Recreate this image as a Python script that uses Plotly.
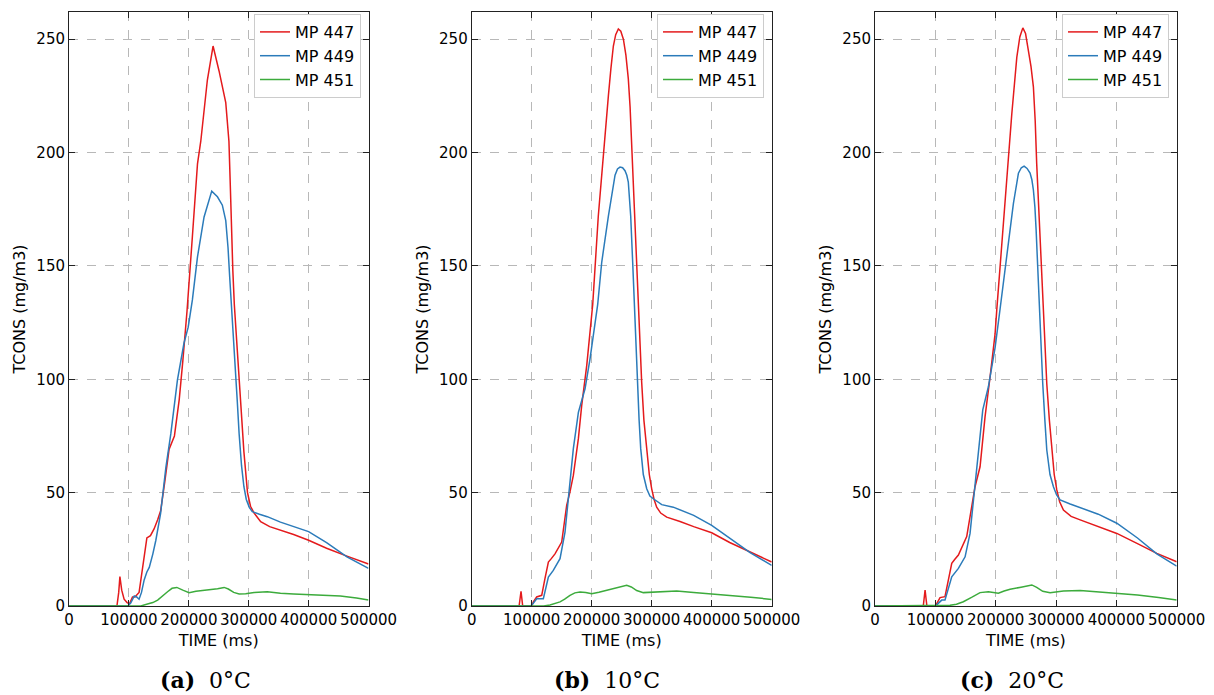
import plotly.graph_objects as go

# ---------------- data ----------------
series_names = ["MP 447", "MP 449", "MP 451"]
series_colors = ["#e41a1c", "#2b7bba", "#3cab3c"]
captions = ["(a)", "(b)", "(c)"]
temps = ["0°C", "10°C", "20°C"]
x_ticks = [0, 100000, 200000, 300000, 400000, 500000]
y_ticks = [0, 50, 100, 150, 200, 250]

# Panel (a) 0°C
a_t447 = [0, 80000, 83000, 85000, 88000, 92000, 97000, 101000, 106000, 110000, 117000, 124000, 130000,
          136000, 142000, 148000, 153000, 160000, 167000, 176000, 184000, 190000, 197000, 206000, 214500,
          220000, 231000, 240500, 250500, 261700, 265000, 267000, 269000, 271000, 273500, 276000, 281000,
          286700, 292000, 298000, 303000, 309000, 320000, 335000, 353000, 375000, 400000, 430000, 464000,
          500000]
a_v447 = [0, 0, 6, 13, 7, 3, 1.5, 1, 4, 4, 6, 18, 30, 31, 34, 38, 42, 55, 69, 75, 91, 108, 130, 163, 195,
          205, 232, 247, 236, 222, 212, 205, 188, 166, 148, 133, 112, 91, 68, 50, 44, 41, 37.2, 35, 33.5,
          31.5, 29, 25.5, 22, 18.5]
a_t449 = [0, 98000, 103000, 109000, 113000, 117000, 121000, 125500, 130000, 134000, 140000, 145000,
          153000, 161700, 170000, 181000, 192000, 199000, 206000, 214500, 225500, 238300, 247800, 256000,
          261700, 265500, 268300, 271500, 275000, 278000, 281000, 284000, 288000, 292000, 296000, 301000,
          306000, 318000, 331000, 353000, 375000, 400000, 430000, 464000, 500000]
a_v449 = [0, 0, 1.3, 4.4, 4, 3, 6, 11.5, 15, 17, 23, 29, 41, 61, 76, 99.6, 116, 123, 135, 154, 171.6,
          183, 180.5, 176.8, 170, 158, 145, 132, 118, 105, 90, 76, 62, 52.6, 47, 43.5, 41.6, 40.5, 39.4,
          37, 35, 32.8, 28, 21.7, 16.6]
a_t451 = [0, 120000, 131000, 140000, 148000, 156000, 164500, 172000, 180000, 190000, 200500, 212000,
          225500, 236700, 248000, 259000, 266000, 275000, 284000, 295000, 309000, 331000, 353000, 375000,
          400000, 425000, 453000, 480000, 500000]
a_v451 = [0, 0, 0.9, 1.5, 2.6, 4.5, 6.3, 7.8, 8.2, 7, 5.9, 6.5, 6.8, 7.3, 7.6, 8.2, 7.5, 6, 5.3, 5.4,
          5.9, 6.3, 5.6, 5.3, 5.1, 4.8, 4.4, 3.5, 2.6]

# Panel (b) 10°C
b_t447 = [0, 79000, 82200, 85000, 100000, 102700, 108300, 116700, 122000, 127800, 133000, 138800,
          150000, 158300, 163800, 169400, 177800, 183300, 191700, 197200, 201700, 211000, 219400, 227800,
          232000, 236100, 240000, 244400, 248500, 252800, 257000, 261000, 264000, 266700, 269500, 272200,
          275000, 277800, 283300, 287000, 291700, 296000, 300000, 304000, 308300, 315000, 325000, 347200,
          370000, 400000, 430000, 464000, 500000]
b_v447 = [0, 0, 6.5, 0, 0, 1.8, 4, 4.7, 12, 19.4, 21, 23, 28.2, 44.4, 50.3, 57.6, 73.8, 88.4, 106,
          120.8, 133, 172, 200, 225, 237, 247, 252, 254.5, 253.5, 250, 243, 232.6, 220, 203, 186, 166,
          150, 133, 98.7, 82, 69.4, 58, 51.7, 47, 43.6, 41, 39.2, 37.3, 35, 32.3, 28, 23.7, 19.4]
b_t449 = [0, 98000, 102000, 108300, 119400, 123000, 127800, 136000, 147200, 155500, 161100, 169400,
          177800, 188900, 197200, 205500, 210000, 216700, 227800, 238900, 243000, 247200, 251500, 255500,
          258500, 261000, 263000, 265000, 268300, 271600, 276000, 279000, 281700, 286000, 291700, 297000,
          302800, 316700, 336000, 370000, 400000, 430000, 464000, 500000]
b_v449 = [0, 0, 1, 3.2, 3.2, 8, 12.8, 15.7, 20.9, 32.6, 47.3, 69.4, 85.4, 95.8, 109, 123.7, 133, 151.6,
          172, 190, 192.8, 193.6, 193.3, 192, 190, 187, 181, 172, 151.6, 128, 98.7, 82, 69.4, 58, 51.7,
          48.5, 47.3, 44.7, 43.6, 40, 35.6, 30, 23.5, 17.9]
b_t451 = [0, 120000, 130500, 147200, 155000, 163800, 172000, 180500, 190000, 200000, 212000, 225000,
          242000, 258300, 266000, 275000, 286100, 308300, 341700, 370000, 400000, 430000, 465000, 500000]
b_v451 = [0, 0, 0.4, 1.8, 3, 4.7, 5.8, 6.2, 6, 5.4, 6.1, 6.9, 8, 9.1, 8.4, 6.8, 5.9, 6.2, 6.6, 6, 5.4,
          4.8, 3.9, 2.9]

# Panel (c) 20°C
c_t447 = [0, 80000, 83000, 86000, 100000, 102300, 107800, 116000, 121000, 127200, 132000, 138200,
          152000, 160300, 165800, 174100, 182400, 190700, 199000, 201800, 210100, 218400, 226700, 235000,
          240000, 245000, 249500, 254200, 258500, 262500, 265500, 268000, 270300, 272500, 275300, 278000,
          284700, 289000, 293000, 297000, 301300, 306000, 312300, 325000, 340000, 370000, 400800, 435000,
          467000, 500000]
c_v447 = [0, 0, 7, 0, 0, 1.2, 3.7, 4.1, 11, 18.8, 20.5, 22.5, 30.6, 43.8, 52.6, 61.4, 83.5, 101, 120,
          130.6, 160, 188, 217, 242, 251, 255, 252.5, 245, 238, 229, 214, 195, 181, 166, 149, 132, 98, 82,
          68.8, 58, 51.2, 46, 42.3, 39.5, 38, 35, 32, 27.5, 23.2, 19.5]
c_t449 = [0, 100000, 102300, 110600, 116000, 121000, 127200, 138200, 149300, 157500, 165800, 171300,
          178600, 187900, 199000, 207300, 218400, 229400, 237700, 242500, 247100, 252000, 257000, 260000,
          262500, 265000, 267000, 270900, 274500, 278000, 281500, 284700, 290000, 295700, 301000, 306800,
          323400, 340000, 370000, 400800, 435000, 467000, 500000]
c_v449 = [0, 0, 0.5, 2.6, 2.6, 7, 12.9, 16.6, 21.7, 32, 52.6, 68.8, 86.5, 96.7, 114, 131, 154, 177.6,
          190.9, 193.3, 194, 193, 191, 188, 183.5, 176, 166, 139, 118, 98, 82, 68.8, 58, 52.6, 49, 46.8,
          45, 43.5, 40.5, 36.5, 30, 23, 17.6]
c_t451 = [0, 118000, 124400, 135000, 146400, 160000, 174100, 187900, 196000, 204500, 214000, 223900,
          242000, 259900, 268000, 278000, 290200, 312300, 340000, 370000, 400800, 435000, 470000, 500000]
c_v451 = [0, 0, 0.3, 0.8, 1.9, 3.8, 5.9, 6.3, 6, 5.6, 6.6, 7.4, 8.3, 9.3, 8.2, 6.5, 5.9, 6.6, 6.8, 6.2,
          5.6, 4.8, 3.7, 2.6]

panels = [
    [(a_t447, a_v447), (a_t449, a_v449), (a_t451, a_v451)],
    [(b_t447, b_v447), (b_t449, b_v449), (b_t451, b_v451)],
    [(c_t447, c_v447), (c_t449, c_v449), (c_t451, c_v451)],
]

# ---------------- layout geometry (pixels) ----------------
W, H = 1214, 695
x_domains_px = [(69, 368.5), (471.7, 771.7), (875, 1176.7)]
y_top_px, y_bot_px = 12, 606
legend_right_px = [361, 764, 1169]
caption_center_px = [205, 607, 1012]

fig = go.Figure()
font_family = "DejaVu Sans"

for i, panel in enumerate(panels):
    sfx = "" if i == 0 else str(i + 1)
    leg = "legend" if i == 0 else f"legend{i + 1}"
    for (t, v), name, col in zip(panel, series_names, series_colors):
        fig.add_trace(go.Scatter(
            x=t, y=v, mode="lines", name=name,
            line=dict(color=col, width=1.5),
            xaxis="x" + sfx, yaxis="y" + sfx, legend=leg,
        ))
    x0, x1 = x_domains_px[i]
    axis_common = dict(
        showline=True, linecolor="#222222", linewidth=1, mirror="allticks",
        ticks="inside", ticklen=6, tickcolor="#222222",
        showgrid=True, gridcolor="#b8b8b8", griddash="dash", gridwidth=1,
        zeroline=False, automargin=False,
        tickfont=dict(family=font_family, size=15, color="black"),
    )
    fig.layout["xaxis" + sfx] = dict(
        domain=[x0 / W, x1 / W], anchor="y" + sfx, range=[0, 500000],
        tickvals=x_ticks, tickformat="d", tickangle=0,
        title=dict(text="TIME (ms)", font=dict(family=font_family, size=16, color="black"), standoff=6),
        **axis_common,
    )
    fig.layout["yaxis" + sfx] = dict(
        domain=[1 - y_bot_px / H, 1 - y_top_px / H], anchor="x" + sfx, range=[0, 262],
        tickvals=y_ticks,
        title=dict(text="TCONS (mg/m3)", font=dict(family=font_family, size=16, color="black"), standoff=6),
        **axis_common,
    )
    fig.layout[leg] = dict(
        x=legend_right_px[i] / W, y=1 - 14 / H, xanchor="right", yanchor="top",
        bgcolor="white", bordercolor="#cccccc", borderwidth=1,
        font=dict(family=font_family, size=16, color="black"),
        tracegroupgap=0, itemwidth=30,
    )
    fig.add_annotation(
        x=caption_center_px[i] / W, y=1 - 680 / H, xref="paper", yref="paper",
        text=f"<b>{captions[i]}</b>  {temps[i]}", showarrow=False,
        xanchor="center", yanchor="middle",
        font=dict(family="DejaVu Serif", size=22, color="black"),
    )

fig.update_layout(
    width=W, height=H, margin=dict(l=0, r=0, t=0, b=0),
    paper_bgcolor="white", plot_bgcolor="white",
    showlegend=True,
)

fig.write_html("out.html")
